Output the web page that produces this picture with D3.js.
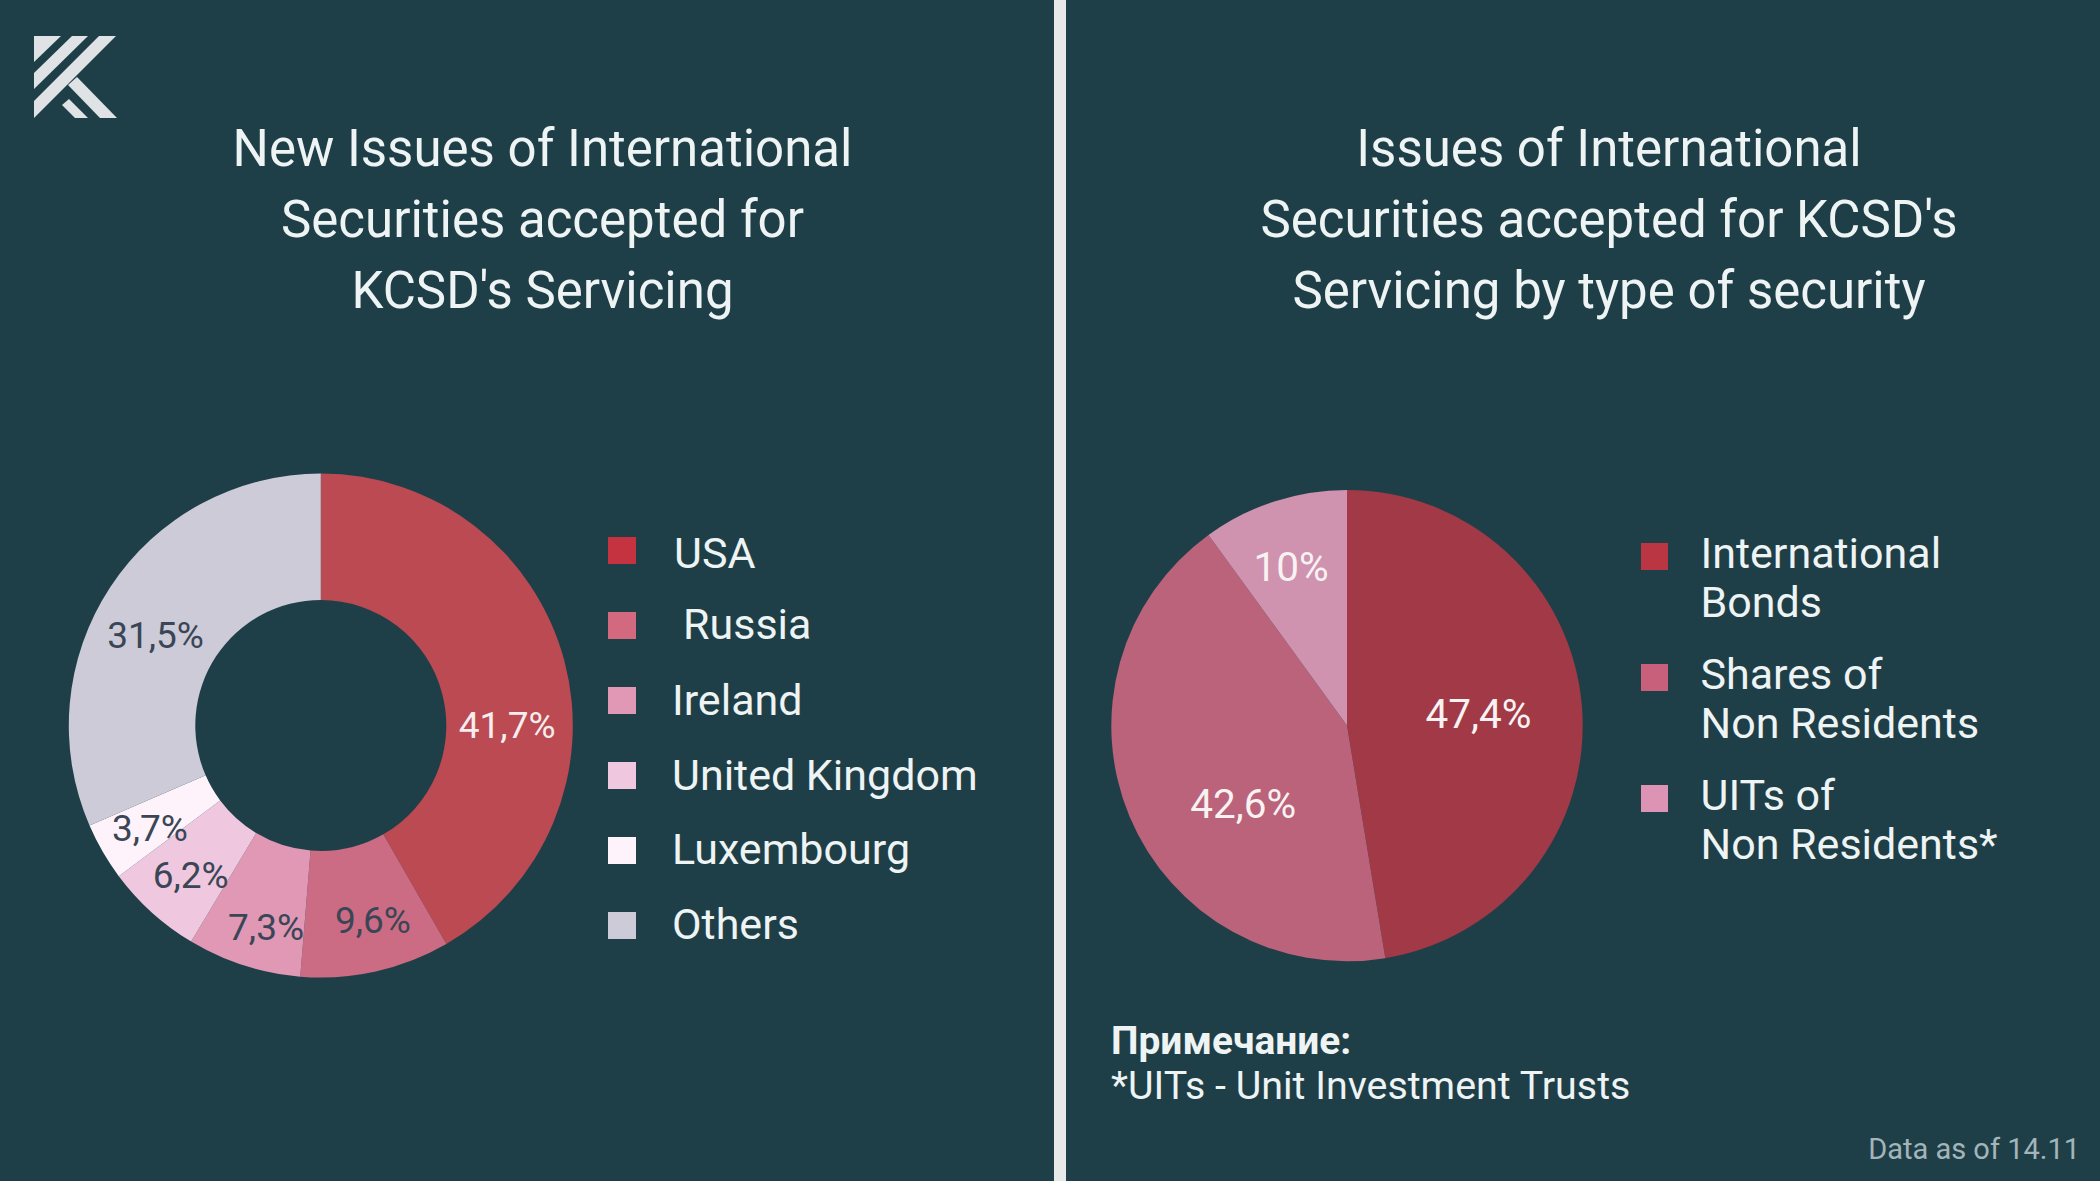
<!DOCTYPE html>
<html><head><meta charset="utf-8">
<style>html,body{margin:0;padding:0;background:#1f3f48}svg{display:block}text{font-family:Roboto,sans-serif}</style>
<script src="https://cdn.jsdelivr.net/npm/d3@7"></script></head><body>
<svg id="c" width="2100" height="1181"></svg>
<script>
// data
const countries = ["USA","Russia","Ireland","United Kingdom","Luxembourg","Others"];
const countryShares = [41.7,9.6,7.3,6.2,3.7,31.5];
const countryLabels = ["41,7%","9,6%","7,3%","6,2%","3,7%","31,5%"];
const securityTypes = [["International","Bonds"],["Shares of","Non Residents"],["UITs of","Non Residents*"]];
const securityShares = [47.4,42.6,10];
const securityLabels = ["47,4%","42,6%","10%"];
const titleLeft = ["New Issues of International","Securities accepted for","KCSD's Servicing"];
const titleRight = ["Issues of International","Securities accepted for KCSD's","Servicing by type of security"];
// style / layout
const countrySliceColors = ["#bb4a53","#cc6c84","#e098b5","#efc8e0","#fff3fb","#cccbd7"];
const countryKeyColors = ["#c53340","#d2697f","#e098b5","#efc8e0","#fff3fb","#cccbd7"];
const countryLabelColors = ["#f6eeee","#3a4656","#3a4656","#3a4656","#3a4656","#3a4656"];
const countryNudge = [[4,48],[11,9.5],[3,21],[-3.5,9],[-7.5,8],[-7.5,13]];
const countryKeyY = [537,612,687,762,837,912];
const countryKeyTextY = [568,639,714.5,790,864,939];
const countryKeyTextX = [674,683,672,672,672,672];
const securitySliceColors = ["#a13946","#ba637a","#cf93af"];
const securityKeyColors = ["#b93642","#c9607b","#dd93b3"];
const securityNudge = [[14,-3],[5,32],[-19.5,-47]];
const securityKeyY = [543,664,785];

const svg = d3.select("#c");
const ink = "#eef3f3";
svg.append("rect").attr("width",2100).attr("height",1181).attr("fill","#1f3f48");
svg.append("rect").attr("x",1054).attr("y",0).attr("width",12).attr("height",1181).attr("fill","#e6e9e8");

// logo
const logo = [[[34,36],[61,36],[34,62]],[[72,36],[88,36],[34,89],[34,73]],[[99,36],[116,36],[34,118],[34,101]],
  [[68,85],[77,77],[117,118],[100,118]],[[62,105],[69,99],[88,118],[75,118]]];
svg.append("g").selectAll("path").data(logo).join("path")
  .attr("d",d3.line().curve(d3.curveLinearClosed)).attr("fill","#dfe3e5");

function title(lines,x){
  svg.append("g").selectAll("text").data(lines).join("text")
    .attr("x",x).attr("y",(d,i)=>165.5+i*71).attr("text-anchor","middle")
    .attr("font-size",51).attr("fill",ink).text(d=>d);
}
title(titleLeft,542.5); title(titleRight,1609);

function ring(values,cx,cy,inner,outer,colors,labels,labelColors,nudge,fs){
  const pie = d3.pie().sort(null)(values);
  const arc = d3.arc().innerRadius(inner).outerRadius(outer);
  const g = svg.append("g").attr("transform",`translate(${cx},${cy})`);
  g.selectAll("path").data(pie).join("path").attr("d",arc).attr("fill",(d,i)=>colors[i]);
  g.selectAll("text").data(pie).join("text")
    .attr("x",(d,i)=>arc.centroid(d)[0]+nudge[i][0])
    .attr("y",(d,i)=>arc.centroid(d)[1]+nudge[i][1])
    .attr("dy",".36em").attr("text-anchor","middle").attr("font-size",fs)
    .attr("fill",(d,i)=>labelColors[i]).text((d,i)=>labels[i]);
}
ring(countryShares,320.8,725.5,125.5,252,countrySliceColors,countryLabels,countryLabelColors,countryNudge,37);
ring(securityShares,1347,725.6,0,235.7,securitySliceColors,securityLabels,securityLabels.map(()=>"#f8f2f2"),securityNudge,40.5);

// legends
svg.append("g").selectAll("rect").data(countries).join("rect")
  .attr("x",608).attr("y",(d,i)=>countryKeyY[i]).attr("width",28).attr("height",27).attr("fill",(d,i)=>countryKeyColors[i]);
svg.append("g").selectAll("text").data(countries).join("text")
  .attr("x",(d,i)=>countryKeyTextX[i]).attr("y",(d,i)=>countryKeyTextY[i])
  .attr("font-size",43).attr("fill",ink).text(d=>d);

svg.append("g").selectAll("rect").data(securityTypes).join("rect")
  .attr("x",1641).attr("y",(d,i)=>securityKeyY[i]).attr("width",27).attr("height",27).attr("fill",(d,i)=>securityKeyColors[i]);
svg.append("g").selectAll("text").data(securityTypes.flatMap((l,i)=>l.map((t,j)=>({t,i,j})))).join("text")
  .attr("x",1700.5).attr("y",d=>securityKeyY[d.i]+25+d.j*49)
  .attr("font-size",43).attr("fill",ink).text(d=>d.t);

// notes
svg.append("text").attr("x",1111).attr("y",1054).attr("font-size",38.9).attr("font-weight",700).attr("fill",ink).text("Примечание:");
svg.append("text").attr("x",1111).attr("y",1098.5).attr("font-size",39.4).attr("fill",ink).text("*UITs - Unit Investment Trusts");
svg.append("text").attr("x",2080).attr("y",1159).attr("text-anchor","end").attr("font-size",29).attr("fill","#a3b5b9").text("Data as of 14.11");
</script></body></html>
